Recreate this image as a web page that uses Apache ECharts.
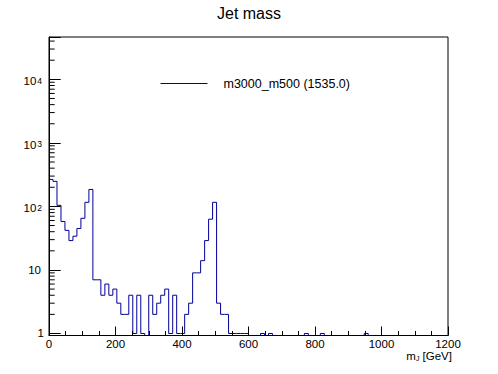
<!DOCTYPE html>
<html>
<head>
<meta charset="utf-8">
<script src="https://cdn.jsdelivr.net/npm/echarts@6/dist/echarts.min.js"></script>
<style>
html,body{margin:0;padding:0;background:#fff;}
#c{width:498px;height:374px;}
</style>
</head>
<body>
<div id="c"></div>
<script>
// ---- data ----
const binWidth = 12;            // GeV per bin (100 bins over 0..1200)
const counts = [
  266, 248, 104, 58, 42, 29, 34, 45, 65, 116,
  185, 7, 7, 4, 6, 4, 5, 3, 2, 2,
  4, 1, 4, 1, 0, 4, 2, 3, 4, 5,
  1, 4, 1, 1, 2, 3, 9, 9, 14, 29,
  63, 116, 3, 2, 2, 1, 1, 1, 1, 1,
  0, 0, 0, 1, 0, 1, 0, 0, 0, 0,
  0, 0, 0, 0, 1, 0, 0, 0, 1, 0,
  0, 0, 0, 0, 0, 0, 0, 0, 0, 1,
  0, 0, 0, 0, 0, 0, 0, 0, 0, 0,
  0, 0, 0, 0, 0, 0, 0, 0, 0, 0
];
const seriesName = 'm3000_m500 (1535.0)';
const titleText = 'Jet mass';
const xTitle = 'm{sub|J} [GeV]';
const xTicks = [0, 200, 400, 600, 800, 1000, 1200];
const yMajorTicks = [1, 10, 100, 1000, 10000];
const yMinorMult = [2, 3, 4, 5, 6, 7, 8, 9];
const yMin = 0.93, yMax = 46400;

// ---- build ----
const lineData = counts.map((c, i) => [i * binWidth, Math.max(c, yMin)]);
lineData.push([counts.length * binWidth, Math.max(counts[counts.length - 1], yMin)]);

const minorTicks = [];
yMajorTicks.forEach(d => yMinorMult.forEach(m => { if (d * m <= yMax) minorTicks.push([0, d * m]); }));

const FONT = '"Liberation Sans", Arial, Helvetica, sans-serif';
const LINE_COLOR = '#000099';
const chart = echarts.init(document.getElementById('c'), null, {renderer: 'svg'});
chart.setOption({
  animation: false,
  backgroundColor: '#fff',
  color: [LINE_COLOR],
  title: {
    text: titleText, left: 'center', top: 4, padding: 0,
    textStyle: {fontFamily: FONT, fontSize: 16, fontWeight: 'normal', color: '#000', lineHeight: 19}
  },
  legend: {
    left: 160, top: 77, padding: 0, itemWidth: 47, itemHeight: 14,
    data: [{
      name: seriesName,
      itemStyle: {color: LINE_COLOR, opacity: 0},
      lineStyle: {color: LINE_COLOR, width: 1, opacity: 1}
    }],
    lineStyle: {color: LINE_COLOR, width: 1},
    itemStyle: {color: LINE_COLOR, opacity: 0},
    textStyle: {fontFamily: FONT, fontSize: 12.5, color: '#000', padding: [0, 0, 0, 11]}
  },
  grid: {left: 49, right: 50, top: 37, bottom: 38.5, containLabel: false, outerBoundsMode: 'none',
         show: true, borderColor: '#000', borderWidth: 1, backgroundColor: 'transparent'},
  xAxis: {
    type: 'value', min: xTicks[0], max: xTicks[xTicks.length - 1], interval: 200, z: 5,
    axisLine: {show: true, onZero: false, lineStyle: {color: '#000', width: 1}},
    axisTick: {show: true, inside: true, length: 9, lineStyle: {color: '#000'}},
    minorTick: {show: true, splitNumber: 4, length: 4.5, lineStyle: {color: '#000'}},
    splitLine: {show: false},
    axisLabel: {fontFamily: FONT, fontSize: 11.5, lineHeight: 12, color: '#000', margin: 2.5, showMinLabel: true, showMaxLabel: true,
                formatter: v => String(v)},
    name: xTitle, nameLocation: 'end', nameGap: 4, nameMoveOverlap: false,
    nameTextStyle: {
      fontFamily: FONT, fontSize: 11.5, lineHeight: 12, color: '#000', align: 'right', verticalAlign: 'top', padding: [14.5, 0, 0, 0],
      rich: {sub: {fontFamily: FONT, fontSize: 7, lineHeight: 12, color: '#000', padding: [5, 0, 0, 0]}}
    }
  },
  yAxis: {
    type: 'log', logBase: 10, min: yMin, max: yMax, z: 5,
    axisLine: {show: true, lineStyle: {color: '#000', width: 1}},
    axisTick: {show: true, inside: true, length: 11.7, lineStyle: {color: '#000'}},
    minorTick: {show: false},
    splitLine: {show: false},
    axisLabel: {
      margin: 5, fontFamily: FONT, fontSize: 11.5, color: '#000', showMinLabel: true, showMaxLabel: true,
      formatter: function (v) {
        const l = Math.log10(v), e = Math.round(l);
        if (Math.abs(l - e) > 1e-6 || yMajorTicks.indexOf(Math.pow(10, e)) < 0) return '';
        if (e === 0) return '{a|1}';
        if (e === 1) return '{t|10}';
        return '{b|10}{s|' + e + '}';
      },
      rich: {
        a: {fontFamily: FONT, fontSize: 11.5, color: '#000', lineHeight: 14},
        t: {fontFamily: FONT, fontSize: 11.5, color: '#000', lineHeight: 14, padding: [0, 3, 0, 0]},
        b: {fontFamily: FONT, fontSize: 11.5, color: '#000', lineHeight: 14, padding: [4, 0, 0, 0]},
        s: {fontFamily: FONT, fontSize: 8.5, color: '#000', lineHeight: 10, verticalAlign: 'top', padding: [4, 2, 0, 1]}
      }
    }
  },
  series: [
    {
      name: seriesName, type: 'line', step: 'end', data: lineData, z: 2,
      showSymbol: false, symbol: 'none',
      lineStyle: {color: LINE_COLOR, width: 1}, itemStyle: {color: LINE_COLOR}
    },
    {
      name: 'yMinorTicks', type: 'custom', data: minorTicks, z: 6, silent: true,
      encode: {x: 0, y: 1},
      renderItem: function (params, api) {
        const p = api.coord([0, api.value(1)]);
        return {type: 'line', shape: {x1: p[0], y1: p[1], x2: p[0] + 5.7, y2: p[1]}, style: {stroke: '#000', lineWidth: 1}};
      }
    }
  ]
});
</script>
</body>
</html>
